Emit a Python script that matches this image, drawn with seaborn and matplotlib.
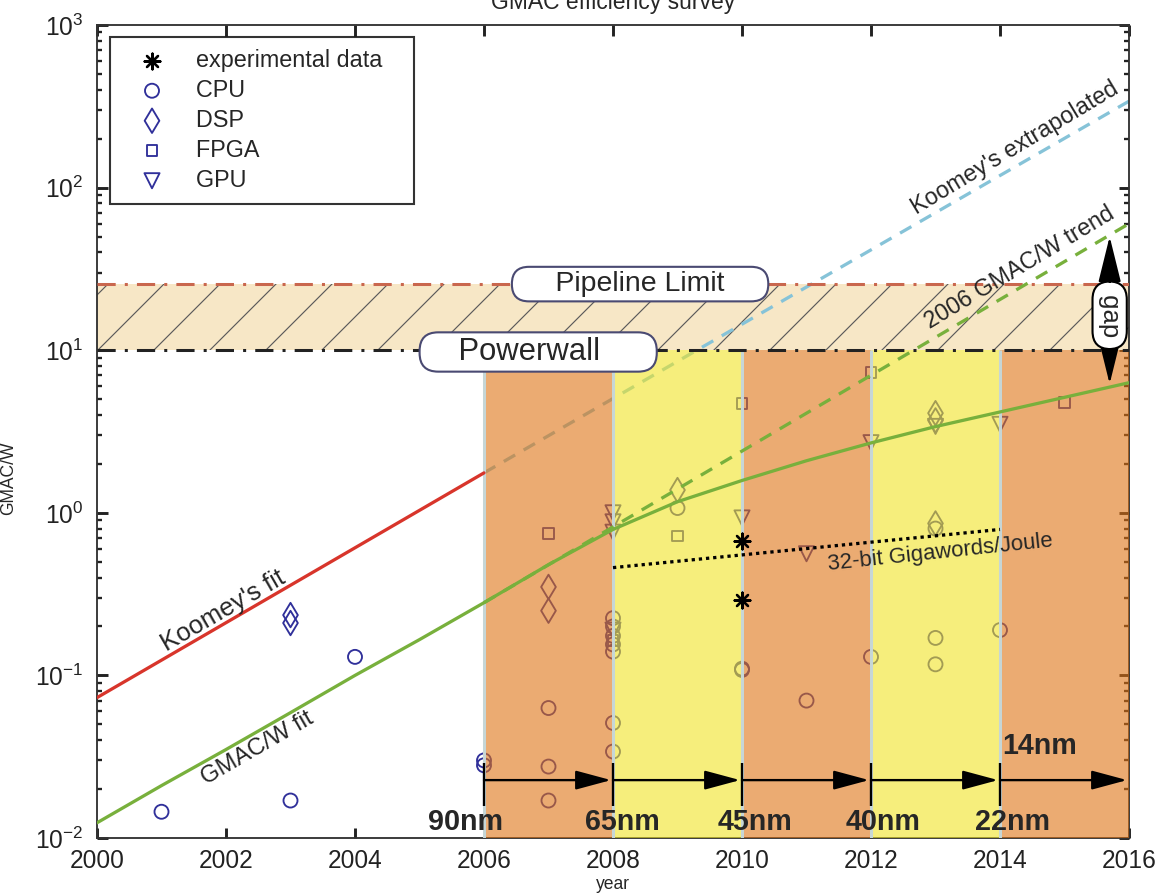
import matplotlib
matplotlib.use("Agg")
import matplotlib.pyplot as plt
import seaborn as sns

# survey points (GMAC/W per year)
cpu_year = [2001, 2003, 2004, 2006, 2006, 2007, 2007, 2007, 2008, 2008,
            2008, 2008, 2008, 2008, 2008, 2009, 2010, 2010, 2011, 2012,
            2013, 2013, 2013, 2014]
cpu_gmac = [0.0145, 0.017, 0.13, 0.028, 0.030, 0.063, 0.0275, 0.017, 0.051, 0.034,
            0.225, 0.2, 0.175, 0.155, 0.14, 1.07, 0.11, 0.108, 0.07, 0.13,
            0.17, 0.117, 0.8, 0.19]
dsp_year = [2003, 2003, 2007, 2007, 2009, 2013, 2013, 2013]
dsp_gmac = [0.235, 0.21, 0.35, 0.25, 1.38, 4.1, 3.7, 0.86]
fpga_year = [2007, 2008, 2009, 2010, 2012, 2015]
fpga_gmac = [0.75, 0.165, 0.72, 4.7, 7.3, 4.8]
gpu_year = [2008, 2008, 2008, 2008, 2010, 2011, 2012, 2013, 2014]
gpu_gmac = [1.0, 0.88, 0.76, 0.19, 0.93, 0.56, 2.7, 3.4, 3.5]
exp_year = [2010, 2010]
exp_gmac = [0.67, 0.29]

# fitted / extrapolated trends
koomey_year = [2000, 2006]
koomey_gmac = [0.073, 1.76]
koomey_ext_year = [2006, 2016]
koomey_ext_gmac = [1.76, 340]
fit_year = list(range(2000, 2017))
fit_gmac = [0.0124, 0.021, 0.035, 0.059, 0.1, 0.166, 0.28, 0.48, 0.79, 1.17,
            1.58, 2.09, 2.69, 3.39, 4.17, 5.13, 6.31]
trend_year = [2006, 2016]
trend_gmac = [0.28, 60]
gigaword_year = [2008, 2014]
gigaword_gmac = [0.46, 0.79]

pipeline_limit = 25.5
powerwall = 10

# process nodes
node_year = [2006, 2008, 2010, 2012, 2014]
node_name = ["90nm", "65nm", "45nm", "40nm", "22nm"]
node_shift = [-0.28, 0.15, 0.2, 0.19, 0.2]
next_node = "14nm"

DPI = 168
sns.set_theme(style="ticks")
plt.rcParams["font.family"] = ["Liberation Sans", "DejaVu Sans"]
plt.rcParams["mathtext.fontset"] = "custom"
plt.rcParams["mathtext.rm"] = "Liberation Sans"
plt.rcParams["mathtext.it"] = "Liberation Sans:italic"
plt.rcParams["hatch.linewidth"] = 0.5

fig = plt.figure(figsize=(1162 / DPI, 894 / DPI), dpi=DPI)
ax = fig.add_axes([97 / 1162, 56 / 894, 1032 / 1162, 813 / 894])
ax.set_yscale("log")
ax.set_xlim(2000, 2016)
ax.set_ylim(1e-2, 1e3)

# hatched zone between powerwall and pipeline limit
ax.fill_between([2000, 2016], powerwall, pipeline_limit, facecolor="#f7e7c6",
                edgecolor="#5a5a5a", hatch="/", lw=0, zorder=1)
ax.axhline(pipeline_limit, color="#c9674e", lw=1.3, ls=(0, (6, 3, 1, 3)), zorder=4)
ax.axhline(powerwall, color="#222222", lw=1.3, ls=(0, (6, 3, 1, 3)), zorder=4)

# Koomey extrapolation sits under the node bands
sns.lineplot(x=koomey_ext_year, y=koomey_ext_gmac, ax=ax, color="#86c3d8",
             lw=1.4, linestyle=(0, (4, 3)), zorder=2)

mark = "#30309a"
sns.scatterplot(x=cpu_year, y=cpu_gmac, ax=ax, marker="o", s=36, facecolor="none",
                edgecolor=mark, linewidth=0.8, label="CPU", zorder=2.5)
sns.scatterplot(x=dsp_year, y=dsp_gmac, ax=ax, marker="d", s=55, facecolor="none",
                edgecolor=mark, linewidth=0.8, label="DSP", zorder=2.5)
sns.scatterplot(x=fpga_year, y=fpga_gmac, ax=ax, marker="s", s=22, facecolor="none",
                edgecolor=mark, linewidth=0.8, label="FPGA", zorder=2.5)
sns.scatterplot(x=gpu_year, y=gpu_gmac, ax=ax, marker="v", s=42, facecolor="none",
                edgecolor=mark, linewidth=0.8, label="GPU", zorder=2.5)

# technology node bands, two years each
band_colors = ["#df7314", "#f0e325"] * 3
for i, x0 in enumerate(node_year):
    ax.fill_between([x0, x0 + 2], 1e-2, powerwall, color=band_colors[i],
                    alpha=0.6, lw=0, zorder=3)
ax.vlines(node_year, 1e-2, powerwall, color="#c6d6d6", lw=1.3, zorder=3.1)

sns.scatterplot(x=exp_year, y=exp_gmac, ax=ax, marker=(8, 2, 0), s=45, color="black",
                linewidth=1.0, label="experimental data", zorder=5)

sns.lineplot(x=koomey_year, y=koomey_gmac, ax=ax, color="#d8352b", lw=1.4, zorder=4)
sns.lineplot(x=fit_year, y=fit_gmac, ax=ax, color="#78b03c", lw=1.4, zorder=4)
sns.lineplot(x=trend_year, y=trend_gmac, ax=ax, color="#78b03c", lw=1.4,
             linestyle=(0, (4, 3)), zorder=4)
sns.lineplot(x=gigaword_year, y=gigaword_gmac, ax=ax, color="black", lw=1.4,
             linestyle=(0, (1, 1.2)), zorder=4)

# node arrows along the bottom
arrow_y = 0.0227
ax.vlines(node_year, 0.0158, 0.029, color="black", lw=1.0, zorder=5)
for i, x0 in enumerate(node_year):
    ax.annotate("", xy=(x0 + 1.97, arrow_y), xytext=(x0, arrow_y),
                arrowprops=dict(arrowstyle="-|>,head_length=1.3,head_width=0.35",
                                color="black", lw=1.0, shrinkA=0, shrinkB=0,
                                mutation_scale=10), zorder=5)
    ax.text(x0 + node_shift[i], 0.0126, node_name[i], ha="center", va="center",
            fontsize=12.3, fontweight="bold", zorder=6)
ax.text(2014.62, 0.037, next_node, ha="center", va="center", fontsize=12.3,
        fontweight="bold", zorder=6)

# boxed labels
box = dict(boxstyle="round,pad=0.15,rounding_size=0.6", fc="white", ec="#4a4a72", lw=0.9)
ax.text(2008.42, pipeline_limit, "     Pipeline Limit     ", ha="center", va="center",
        fontsize=12.2, bbox=box, zorder=7)
ax.text(2006.84, 9.75, "    Powerwall      ", ha="center", va="center",
        fontsize=13.3, bbox=box, zorder=7)

# gap arrow between the trend and the fit
ax.annotate("", xy=(2015.7, 50), xytext=(2015.7, 6.2),
            arrowprops=dict(arrowstyle="<|-|>,head_length=1.7,head_width=0.42",
                            color="black", lw=1.0, shrinkA=0, shrinkB=0,
                            mutation_scale=10), zorder=6)
ax.text(2015.7, 16.4, " gap ", rotation=-90, ha="center", va="center", fontsize=11,
        bbox=dict(boxstyle="round,pad=0.2,rounding_size=0.7", fc="white", ec="black",
                  lw=0.9), zorder=7)

# line annotations
ax.text(2001.95, 0.25, "Koomey's fit", rotation=30, ha="center", va="center",
        fontsize=11, zorder=6)
ax.text(2002.48, 0.0357, "GMAC/W fit", rotation=30, ha="center", va="center",
        fontsize=10.2, zorder=6)
ax.text(2014.23, 175, "Koomey's extrapolated", rotation=31, ha="center", va="center",
        fontsize=10, zorder=6)
ax.text(2014.31, 32, "2006 GMAC/W trend", rotation=31, ha="center", va="center",
        fontsize=10, zorder=6)
ax.text(2013.07, 0.566, "32-bit Gigawords/Joule", rotation=6, ha="center", va="center",
        fontsize=9.5, zorder=6)

ax.set_xticks(range(2000, 2017, 2))
ax.tick_params(axis="both", which="both", direction="in", top=True, right=True,
               labelsize=10.5, colors="#222222")
ax.tick_params(which="major", length=4.5)
ax.tick_params(which="minor", length=2.2)
ax.tick_params(axis="y", pad=6)
ax.tick_params(axis="x", pad=4.5)
for sp in ax.spines.values():
    sp.set_color("#333333")
    sp.set_linewidth(0.8)

ax.set_title("GMAC efficiency survey", fontsize=9.8, pad=7)
ax.set_xlabel("year", fontsize=7.5)
ax.xaxis.set_label_coords(0.5, -0.047)
ax.set_ylabel("GMAC/W", fontsize=7.5)
ax.yaxis.set_label_coords(-0.077, 0.443)

handles, labels = ax.get_legend_handles_labels()
order = ["experimental data", "CPU", "DSP", "FPGA", "GPU"]
hl = dict(zip(labels, handles))
leg = ax.legend([hl[k] for k in order], [k + "   " for k in order], loc="upper left",
                bbox_to_anchor=(0.0126, 0.985), borderaxespad=0, fontsize=10,
                frameon=True, fancybox=False, edgecolor="black", labelspacing=0.3,
                borderpad=0.5, handlelength=2.6, handletextpad=0.6)
leg.get_frame().set_linewidth(0.9)
leg.set_zorder(8)

fig.savefig("out.png", dpi=DPI)
